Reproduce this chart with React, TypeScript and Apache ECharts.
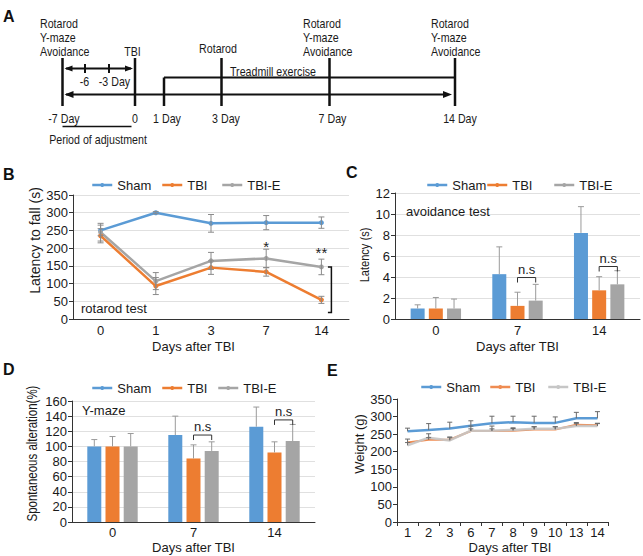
import React, { useEffect, useRef } from 'react';
import * as echarts from 'echarts';

const FONT = "'Liberation Sans', Arial, Helvetica, sans-serif";
const GROUPS = ['Sham', 'TBI', 'TBI-E'];
const COLORS = ['#5b9bd5', '#ed7d31', '#a5a5a5'];
const WEIGHT_COLORS = ['#5b9bd5', '#ef8c52', '#c6c6c6'];

// ---- Panel B: rotarod ----
const rotarodDays = ['0', '1', '3', '7', '14'];
const rotarodSham = [250, 300, 270, 272, 272];
const rotarodShamErr = [15, 3, 25, 20, 16];
const rotarodTBI = [235, 93, 145, 133, 54];
const rotarodTBIErr = [20, 24, 19, 12, 10];
const rotarodTBIE = [245, 107, 164, 171, 147];
const rotarodTBIEErr = [25, 24, 24, 26, 22];
const rotarodSigDays = [3, 4];
const rotarodSigLevels = [206, 187];
const rotarodSigLabels = ['*', '**'];
const rotarodBracketDay = 4;
const rotarodBracketTop = 147;
const rotarodBracketBottom = 18;

// ---- Panel C: avoidance ----
const avoidDays = ['0', '7', '14'];
const avoidSham = [1.0, 4.27, 8.2];
const avoidShamErr = [0.35, 2.6, 2.5];
const avoidTBI = [1.0, 1.25, 2.73];
const avoidTBIErr = [1.05, 1.3, 1.3];
const avoidTBIE = [1.0, 1.75, 3.3];
const avoidTBIEErr = [0.9, 1.55, 1.3];
const avoidNsDays = [1, 2];
const avoidNsLevels = [3.95, 5.0];

// ---- Panel D: Y-maze ----
const ymazeDays = ['0', '7', '14'];
const ymazeSham = [100, 115, 126];
const ymazeShamErr = [9, 25, 26];
const ymazeTBI = [100, 84, 92];
const ymazeTBIErr = [13, 18, 14];
const ymazeTBIE = [100, 94, 107];
const ymazeTBIEErr = [17, 12, 22];
const ymazeNsDays = [1, 2];
const ymazeNsLevels = [115, 135];

// ---- Panel E: weight ----
const weightDays = ['1', '2', '3', '6', '7', '8', '9', '10', '13', '14'];
const weightSham = [258, 262, 266, 274, 281, 284, 282, 282, 295, 295];
const weightShamErr = [9, 18, 18, 14, 20, 17, 19, 17, 17, 19];
const weightTBI = [226, 234, 234, 259, 259, 260, 263, 263, 277, 275];
const weightTBIErr = [10, 6, 6, 6, 6, 6, 8, 8, 6, 6];
const weightTBIE = [218, 240, 232, 260, 260, 262, 265, 265, 273, 273];
const weightTBIEErr = [8, 11, 10, 13, 13, 6, 6, 6, 7, 7];

// ---- Panel A: timeline texts ----
const testBlock = ['Rotarod', 'Y-maze', 'Avoidance'];
const timelineLabels = ['-7 Day', '0', '1 Day', '3 Day', '7 Day', '14 Day'];

const BAR_W = 14;
const BAR_GAP = 0.3;
const STEP = BAR_W * (1 + BAR_GAP);

function hasNarrow(): boolean {
  try {
    const c = document.createElement('canvas').getContext('2d');
    if (!c) return false;
    c.font = '40px monospace';
    const w1 = c.measureText('Rotarod Avoidance').width;
    c.font = "40px 'Liberation Sans Narrow', monospace";
    const w2 = c.measureText('Rotarod Avoidance').width;
    return Math.abs(w1 - w2) > 1;
  } catch (e) {
    return false;
  }
}

function errSeries(xi: number, yi: number, vals: number[], errs: number[], slot: number, both: boolean, color: string, cap: number) {
  return {
    type: 'custom',
    xAxisIndex: xi,
    yAxisIndex: yi,
    silent: true,
    z: 4,
    data: vals.map((v, i) => [i, both ? v - errs[i] : v, v + errs[i]]),
    encode: { x: 0, y: [1, 2] },
    renderItem: (params: any, api: any) => {
      const lo = api.coord([api.value(0), api.value(1)]);
      const hi = api.coord([api.value(0), api.value(2)]);
      const x = lo[0] + slot * STEP;
      const style = { stroke: color, lineWidth: 1 };
      const children: any[] = [
        { type: 'line', shape: { x1: x, y1: lo[1], x2: x, y2: hi[1] }, style },
        { type: 'line', shape: { x1: x - cap, y1: hi[1], x2: x + cap, y2: hi[1] }, style },
      ];
      if (both) children.push({ type: 'line', shape: { x1: x - cap, y1: lo[1], x2: x + cap, y2: lo[1] }, style });
      return { type: 'group', children };
    },
  };
}

function nsSeries(xi: number, yi: number, days: number[], levels: number[]) {
  return {
    type: 'custom',
    xAxisIndex: xi,
    yAxisIndex: yi,
    silent: true,
    z: 5,
    data: days.map((d, i) => [d, levels[i]]),
    encode: { x: 0, y: 1 },
    renderItem: (params: any, api: any) => {
      const p = api.coord([api.value(0), api.value(1)]);
      const x1 = p[0];
      const x2 = p[0] + STEP;
      const y = p[1];
      return {
        type: 'group',
        children: [
          { type: 'polyline', shape: { points: [[x1, y + 5], [x1, y], [x2, y], [x2, y + 5]] }, style: { stroke: '#333', lineWidth: 1, fill: 'none' } },
          { type: 'text', x: (x1 + x2) / 2, y: y - 2, style: { text: 'n.s', align: 'center', verticalAlign: 'bottom', fontSize: 13, fontFamily: FONT, fill: '#222' } },
        ],
      };
    },
  };
}

function buildOption(narrow: boolean): any {
  const NF = narrow ? "'Liberation Sans Narrow', 'Liberation Sans', Arial, sans-serif" : FONT;
  const sx = narrow ? 1 : 0.82;
  const ink = '#1a1a1a';
  const axisLine = { show: true, lineStyle: { color: '#333', width: 1 } };
  const yTick = { show: true, length: 4, lineStyle: { color: '#333' } };
  const split = { show: true, lineStyle: { color: '#e0e0e0' } };
  const label = { fontSize: 13, color: ink, fontFamily: FONT };

  const grids = [
    { left: 73, top: 195, width: 276, height: 124 },
    { left: 395, top: 193, width: 245, height: 126 },
    { left: 72, top: 401, width: 243, height: 121 },
    { left: 397, top: 399, width: 211, height: 123 },
  ];

  const xName = (pad: number[]) => ({
    name: 'Days after TBI',
    nameLocation: 'middle',
    nameTextStyle: { fontSize: 13, color: ink, fontFamily: FONT, padding: pad },
  });

  const xAxis = [
    { gridIndex: 0, type: 'category', data: rotarodDays, axisLine, axisTick: { show: false }, axisLabel: { ...label, margin: 5 }, ...xName([0, 35, 0, 0]), nameGap: 21 },
    { gridIndex: 1, type: 'category', data: avoidDays, axisLine, axisTick: { show: false }, axisLabel: { ...label, margin: 5 }, ...xName([0, 0, 0, 0]), nameGap: 21 },
    { gridIndex: 2, type: 'category', data: ymazeDays, axisLine, axisTick: { show: false }, axisLabel: { ...label, margin: 4 }, ...xName([0, 0, 0, 0]), nameGap: 19 },
    { gridIndex: 3, type: 'category', data: weightDays, axisLine, axisTick: { show: true, length: 4, lineStyle: { color: '#333' } }, axisLabel: { ...label, margin: 4, interval: 0 }, ...xName([0, 0, 0, 15]), nameGap: 19 },
  ];

  const yAxis = [
    { gridIndex: 0, type: 'value', min: 0, max: 350, interval: 50, axisLine, axisTick: yTick, axisLabel: { ...label, margin: 5 }, splitLine: split,
      name: 'Latency to fall (s)', nameLocation: 'middle', nameGap: 31, nameTextStyle: { fontSize: 14, color: ink, fontFamily: FONT, padding: [0, 0, 0, 33] } },
    { gridIndex: 1, type: 'value', min: 0, max: 12, interval: 2, axisLine, axisTick: yTick, axisLabel: { ...label, margin: 5 }, splitLine: split },
    { gridIndex: 2, type: 'value', min: 0, max: 160, interval: 20, axisLine, axisTick: yTick, axisLabel: { ...label, margin: 5 }, splitLine: split },
    { gridIndex: 3, type: 'value', min: 0, max: 350, interval: 50, axisLine, axisTick: yTick, axisLabel: { ...label, margin: 5 }, splitLine: { show: false },
      name: 'Weight (g)', nameLocation: 'middle', nameGap: 31, nameTextStyle: { fontSize: 13, color: ink, fontFamily: FONT, padding: [0, 0, 0, 33] } },
  ];

  const rotVals = [rotarodSham, rotarodTBI, rotarodTBIE];
  const rotErrs = [rotarodShamErr, rotarodTBIErr, rotarodTBIEErr];
  const avVals = [avoidSham, avoidTBI, avoidTBIE];
  const avErrs = [avoidShamErr, avoidTBIErr, avoidTBIEErr];
  const ymVals = [ymazeSham, ymazeTBI, ymazeTBIE];
  const ymErrs = [ymazeShamErr, ymazeTBIErr, ymazeTBIEErr];
  const wVals = [weightSham, weightTBI, weightTBIE];
  const wErrs = [weightShamErr, weightTBIErr, weightTBIEErr];

  const series: any[] = [];
  // B lines (first so legend icons are line icons with dot)
  GROUPS.forEach((g, i) => {
    series.push({
      type: 'line', name: g, xAxisIndex: 0, yAxisIndex: 0, data: rotVals[i],
      symbol: 'circle', symbolSize: 5, color: COLORS[i],
      lineStyle: { width: 2.5, color: COLORS[i] }, itemStyle: { color: COLORS[i] }, z: 3,
    });
  });
  GROUPS.forEach((g, i) => series.push(errSeries(0, 0, rotVals[i], rotErrs[i], 0, true, '#8a8a8a', 3)));
  // C bars
  GROUPS.forEach((g, i) => {
    series.push({ type: 'bar', name: g, xAxisIndex: 1, yAxisIndex: 1, data: avVals[i], barWidth: BAR_W, barGap: '30%', itemStyle: { color: COLORS[i] } });
  });
  GROUPS.forEach((g, i) => series.push(errSeries(1, 1, avVals[i], avErrs[i], i - 1, false, '#9a9a9a', 3)));
  // D bars
  GROUPS.forEach((g, i) => {
    series.push({ type: 'bar', name: g, xAxisIndex: 2, yAxisIndex: 2, data: ymVals[i], barWidth: BAR_W, barGap: '30%', itemStyle: { color: COLORS[i] } });
  });
  GROUPS.forEach((g, i) => series.push(errSeries(2, 2, ymVals[i], ymErrs[i], i - 1, false, '#9a9a9a', 3)));
  // E lines
  GROUPS.forEach((g, i) => series.push(errSeries(3, 3, wVals[i], wErrs[i], 0, false, '#6a6a6a', 2.5)));
  GROUPS.forEach((g, i) => {
    series.push({
      type: 'line', name: g, xAxisIndex: 3, yAxisIndex: 3, data: wVals[i],
      showSymbol: false, symbol: 'none', color: WEIGHT_COLORS[i],
      lineStyle: { width: i === 1 ? 2 : 2.5, color: WEIGHT_COLORS[i], opacity: i === 2 ? 0.9 : 1 }, z: 3,
    });
  });
  // annotations
  series.push(nsSeries(1, 1, avoidNsDays, avoidNsLevels));
  series.push(nsSeries(2, 2, ymazeNsDays, ymazeNsLevels));
  series.push({
    type: 'custom', xAxisIndex: 0, yAxisIndex: 0, silent: true, z: 5,
    data: rotarodSigDays.map((d, i) => [d, rotarodSigLevels[i]]),
    encode: { x: 0, y: 1 },
    renderItem: (params: any, api: any) => {
      const p = api.coord([api.value(0), api.value(1)]);
      return { type: 'text', x: p[0], y: p[1], style: { text: rotarodSigLabels[params.dataIndex], align: 'center', verticalAlign: 'middle', fontSize: 15, fontFamily: FONT, fill: '#222' } };
    },
  });
  series.push({
    type: 'custom', xAxisIndex: 0, yAxisIndex: 0, silent: true, z: 5,
    data: [[rotarodBracketDay, rotarodBracketTop, rotarodBracketBottom]],
    encode: { x: 0, y: [1, 2] },
    renderItem: (params: any, api: any) => {
      const t = api.coord([api.value(0), api.value(1)]);
      const b = api.coord([api.value(0), api.value(2)]);
      const x = t[0] + 10;
      return { type: 'polyline', shape: { points: [[x - 3.5, t[1]], [x, t[1]], [x, b[1]], [x - 3.5, b[1]]] }, style: { stroke: '#111', lineWidth: 1.5, fill: 'none' } };
    },
  });

  // legends, one per item (left = text start - 24)
  const legendSpecs = [
    { xs: [91, 161, 221], y: 186, colors: COLORS },
    { xs: [426, 486, 553], y: 186, colors: COLORS },
    { xs: [91, 161, 217], y: 389, colors: COLORS },
    { xs: [420, 489, 547], y: 388, colors: WEIGHT_COLORS },
  ];
  const legend = legendSpecs.flatMap((s) =>
    GROUPS.map((g, i) => ({
      data: [{ name: g, itemStyle: { color: s.colors[i] }, lineStyle: { color: s.colors[i], width: 2.5 } }],
      left: s.xs[i], top: s.y - 7.5, padding: 0, itemWidth: 20, itemHeight: 5, itemGap: 0, selectedMode: false,
      textStyle: { fontSize: 13, color: ink, fontFamily: FONT },
    }))
  );

  // graphic: panel A diagram, panel letters, inset labels, narrow axis titles
  const txt = (text: string, x: number, y: number, align: string, extra: any = {}) => ({
    type: 'text', x, y, scaleX: sx, silent: true,
    style: { text, align, verticalAlign: 'middle', fontSize: 13, fontFamily: NF, fill: ink, ...extra },
  });
  const ln = (x1: number, y1: number, x2: number, y2: number, w: number) => ({
    type: 'line', silent: true, shape: { x1, y1, x2, y2 }, style: { stroke: '#111', lineWidth: w },
  });
  const head = (tipX: number, y: number, dir: number, len: number, half: number) => ({
    type: 'polygon', silent: true,
    shape: { points: [[tipX, y], [tipX - dir * len, y - half], [tipX - dir * len, y + half]] },
    style: { fill: '#111' },
  });
  const blockYs = [24, 37.5, 51.5];
  const blockLefts = [40, 303, 431];
  const labelXs = [64, 135, 167, 226, 332.5, 460];
  const graphic: any[] = [];
  blockLefts.forEach((bx) => testBlock.forEach((t, k) => graphic.push(txt(t, bx, blockYs[k], 'left'))));
  graphic.push(txt('TBI', 132.5, 51.5, 'center'));
  graphic.push(txt('Rotarod', 218, 49, 'center'));
  graphic.push(txt('-6', 84.5, 81.5, 'center'));
  graphic.push(txt('-3 Day', 114.5, 81.5, 'center'));
  graphic.push(txt('Treadmill exercise', 273, 71.5, 'center'));
  timelineLabels.forEach((t, k) => graphic.push(txt(t, labelXs[k], 118.5, 'center')));
  graphic.push(txt('Period of adjustment', 98, 140, 'center'));
  [62.5, 135, 221.5, 329.5, 455].forEach((x) => graphic.push(ln(x, 58, x, 106, 2.5)));
  graphic.push(ln(164, 77.5, 164, 106, 2.5));
  graphic.push(ln(164, 77.5, 455, 77.5, 2));
  graphic.push(ln(66, 68.5, 131, 68.5, 2));
  graphic.push(head(64.5, 68.5, -1, 8, 3));
  graphic.push(head(133, 68.5, 1, 8, 3));
  graphic.push(ln(85, 64, 85, 73, 2));
  graphic.push(ln(109, 64, 109, 73, 2));
  graphic.push(ln(66, 94.5, 446, 94.5, 2));
  graphic.push(head(64.5, 94.5, -1, 9, 3.5));
  graphic.push(head(452, 94.5, 1, 9, 3.5));
  graphic.push(ln(62.5, 126.5, 131.5, 126.5, 1.5));
  // rotated y-axis titles for C and D (narrow lettering)
  graphic.push({ ...txt('Latency (s)', 365, 255, 'center', { fontSize: 13.5 }), rotation: Math.PI / 2 });
  graphic.push({ ...txt('Spontaneous alteration(%)', 32, 453.5, 'center', { fontSize: 14 }), rotation: Math.PI / 2 });
  const letter = (t: string, x: number, y: number) => ({
    type: 'text', x, y, silent: true,
    style: { text: t, align: 'left', verticalAlign: 'top', fontSize: 16, fontWeight: 'bold', fontFamily: FONT, fill: '#111' },
  });
  graphic.push(letter('A', 3, 8));
  graphic.push(letter('B', 3, 166));
  graphic.push(letter('C', 346, 164));
  graphic.push(letter('D', 3, 361));
  graphic.push(letter('E', 327, 362));
  const inset = (t: string, x: number, y: number) => ({
    type: 'text', x, y, silent: true, z: 10,
    style: { text: t, align: 'left', verticalAlign: 'middle', fontSize: 13, fontFamily: FONT, fill: ink },
  });
  graphic.push(inset('rotarod test', 81, 308));
  graphic.push(inset('avoidance test', 406, 211.5));
  graphic.push(inset('Y-maze', 82, 410.5));

  return {
    animation: false,
    backgroundColor: '#ffffff',
    textStyle: { fontFamily: FONT },
    grid: grids,
    xAxis,
    yAxis,
    legend,
    series,
    graphic,
  };
}

export default function App() {
  const ref = useRef<HTMLDivElement>(null);
  useEffect(() => {
    if (!ref.current) return;
    const chart = echarts.init(ref.current, undefined, { renderer: 'svg' });
    chart.setOption(buildOption(hasNarrow()));
    return () => chart.dispose();
  }, []);
  return <div ref={ref} style={{ position: 'fixed', left: 0, top: 0, width: 643, height: 556, background: '#fff' }} />;
}
